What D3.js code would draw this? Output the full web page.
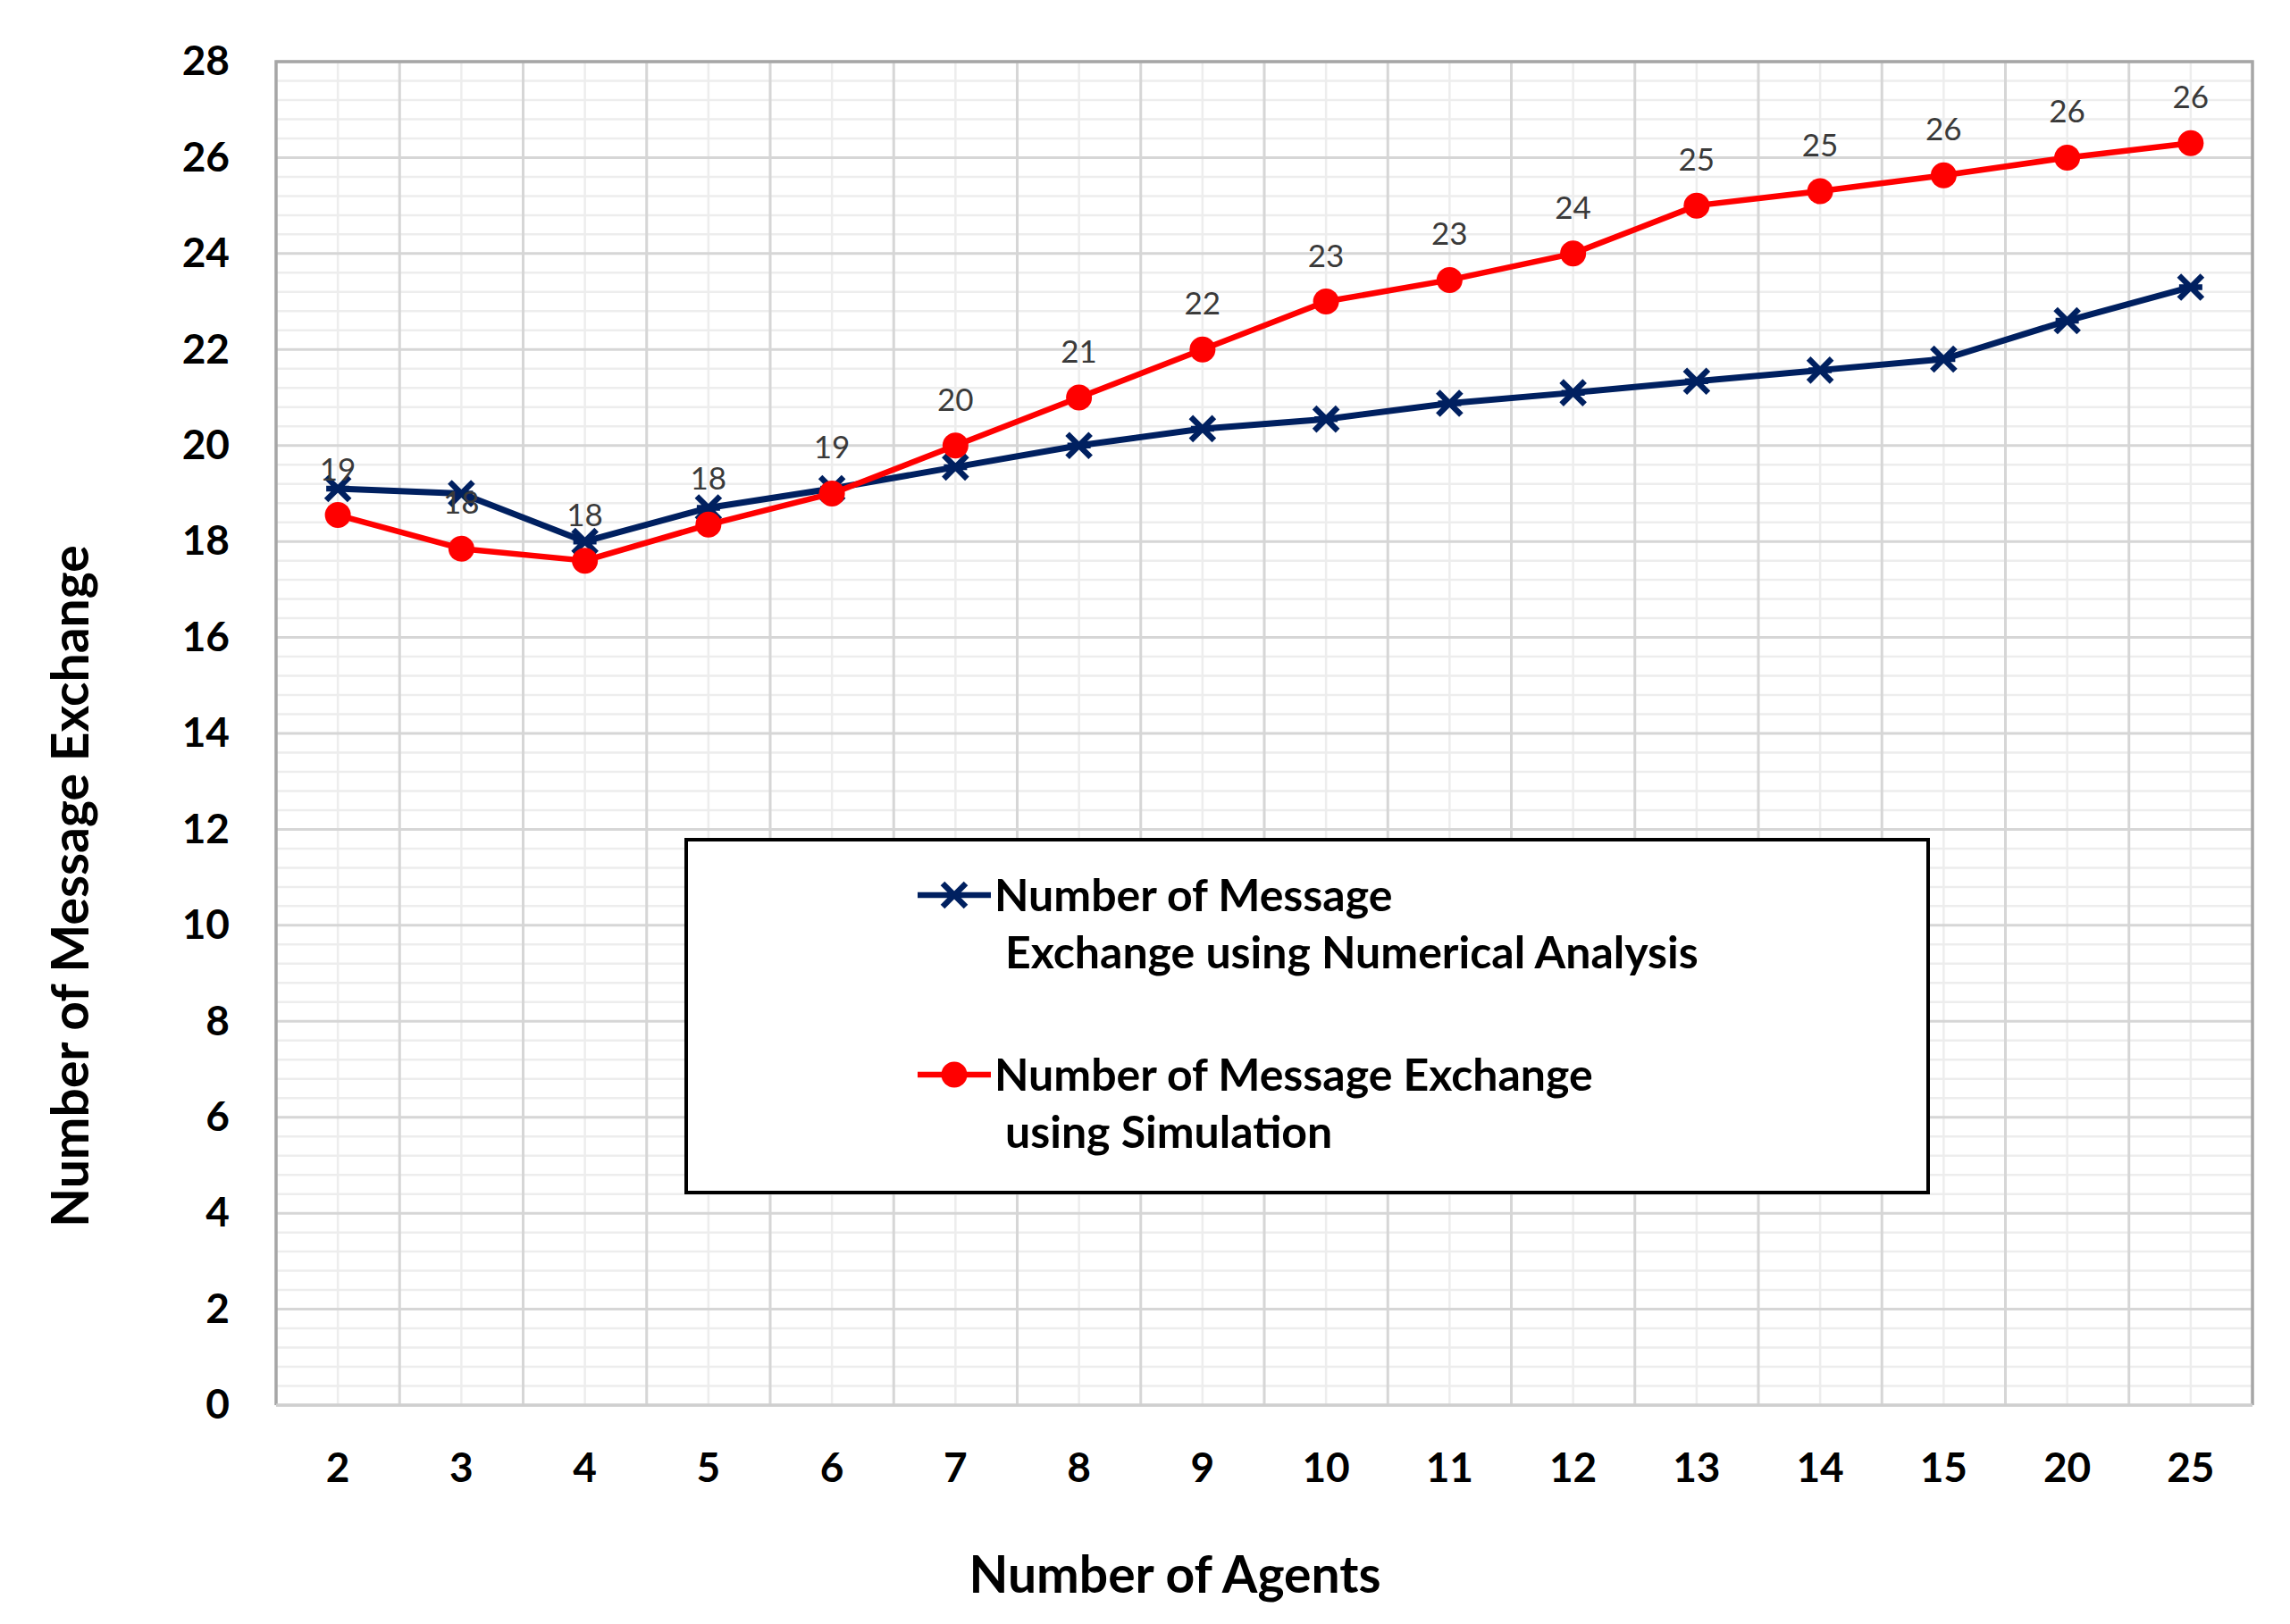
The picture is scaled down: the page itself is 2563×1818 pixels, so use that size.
<!DOCTYPE html>
<html>
<head>
<meta charset="utf-8">
<style>
    body { margin: 0; background: #fff; }
    svg { display: block; font-family: Lato, 'Open Sans', sans-serif; }
    svg text { font-family: Lato, 'Open Sans', sans-serif; }
    .y.axis text, .x.axis text { font-size: 46px; font-weight: 700; fill: #000; }
    .axis .domain { display: none; }
    .dlab { font-size: 35px; fill: #3a3a3a; }
    .atitle { font-size: 57px; font-weight: 700; fill: #000; }
    .legtext { font-size: 50px; font-weight: 700; fill: #000; }
</style>
</head>
<body>
<svg width="2563" height="1818"></svg>

<script src="https://d3js.org/d3.v7.min.js"></script>
<script>
    // values
    let agents = ["2", "3", "4", "5", "6", "7", "8", "9", "10", "11", "12", "13", "14", "15", "20", "25"];
    let numerical = [19.1, 19.0, 18.0, 18.7, 19.1, 19.55, 20.0, 20.35, 20.55, 20.88, 21.1, 21.34, 21.57, 21.8, 22.6, 23.3];
    let simulation = [18.55, 17.85, 17.6, 18.35, 19.0, 20.0, 21.0, 22.0, 23.0, 23.45, 24.0, 25.0, 25.3, 25.63, 26.0, 26.3];
    let yTicks = [0, 2, 4, 6, 8, 10, 12, 14, 16, 18, 20, 22, 24, 26, 28];
    let numericalName = ["Number of Message", "Exchange using Numerical Analysis"];
    let simulationName = ["Number of Message Exchange", "using Simulation"];
    let xTitle = "Number of Agents";
    let yTitle = "Number of Message Exchange";

    let margin = { top: 69, right: 42, bottom: 245, left: 309 };
    let width = 2563, height = 1818;

    let svg = d3.select("svg");

    let x = d3.scaleBand()
        .domain(agents)
        .range([margin.left, width - margin.right])
        .padding(0);

    let y = d3.scaleLinear()
        .domain([0, 28])
        .range([height - margin.bottom, margin.top]);

    let grid = svg.append("g").attr("class", "grid");

    // minor horizontal lines every 0.4
    let minorY = d3.range(0, 28.01, 0.4).filter(v => Math.abs(v / 2 - Math.round(v / 2)) > 0.01);
    grid.selectAll(".hminor")
        .data(minorY)
        .join("line")
        .attr("x1", x.range()[0]).attr("x2", x.range()[1])
        .attr("y1", d => y(d)).attr("y2", d => y(d))
        .attr("stroke", "#ededed").attr("stroke-width", 2.5);

    // minor vertical lines at category centers
    grid.selectAll(".vminor")
        .data(agents)
        .join("line")
        .attr("x1", d => x(d) + x.bandwidth() / 2).attr("x2", d => x(d) + x.bandwidth() / 2)
        .attr("y1", y(0)).attr("y2", y(28))
        .attr("stroke", "#ededed").attr("stroke-width", 2.5);

    // major lines
    grid.selectAll(".hmajor")
        .data(yTicks)
        .join("line")
        .attr("x1", x.range()[0]).attr("x2", x.range()[1])
        .attr("y1", d => y(d)).attr("y2", d => y(d))
        .attr("stroke", "#d6d6d6").attr("stroke-width", 3);

    grid.selectAll(".vmajor")
        .data(agents.slice(1))
        .join("line")
        .attr("x1", d => x(d)).attr("x2", d => x(d))
        .attr("y1", y(0)).attr("y2", y(28))
        .attr("stroke", "#d6d6d6").attr("stroke-width", 3);

    // plot frame
    svg.append("path")
        .attr("d", `M${x.range()[0]},${y(0)} V${y(28)} H${x.range()[1]} V${y(0)}`)
        .attr("fill", "none")
        .attr("stroke", "#a6a6a6")
        .attr("stroke-width", 3.5);

    svg.append("line")
        .attr("x1", x.range()[0]).attr("x2", x.range()[1])
        .attr("y1", y(0)).attr("y2", y(0))
        .attr("stroke", "#cfcfcf").attr("stroke-width", 3.5);

    // axes
    svg.append("g")
        .attr("class", "y axis")
        .attr("transform", `translate(${margin.left},0)`)
        .call(d3.axisLeft(y).tickValues(yTicks).tickSize(0).tickPadding(52));

    svg.append("g")
        .attr("class", "x axis")
        .attr("transform", `translate(0,${y(0)})`)
        .call(d3.axisBottom(x).tickSize(0).tickPadding(53));

    // lines
    let cx = d => x(d) + x.bandwidth() / 2;

    let line = d3.line()
        .x((d, i) => cx(agents[i]))
        .y(d => y(d));

    svg.append("path")
        .datum(numerical)
        .attr("fill", "none")
        .attr("stroke", "#002060")
        .attr("stroke-width", 7)
        .attr("stroke-linejoin", "round")
        .attr("d", line);

    let s = 13;
    svg.append("g")
        .selectAll("path")
        .data(numerical)
        .join("path")
        .attr("transform", (d, i) => `translate(${cx(agents[i])},${y(d)})`)
        .attr("d", `M${-s},${-s}L${s},${s}M${-s},${s}L${s},${-s}M${-s},0H${s}`)
        .attr("stroke", "#002060")
        .attr("stroke-width", 6.5)
        .attr("fill", "none");

    svg.append("path")
        .datum(simulation)
        .attr("fill", "none")
        .attr("stroke", "#ff0000")
        .attr("stroke-width", 6.5)
        .attr("stroke-linejoin", "round")
        .attr("d", line);

    svg.append("g")
        .selectAll("circle")
        .data(simulation)
        .join("circle")
        .attr("cx", (d, i) => cx(agents[i]))
        .attr("cy", d => y(d))
        .attr("r", 14.5)
        .attr("fill", "#ff0000");

    // data labels (simulation values, rounded)
    svg.append("g")
        .selectAll("text")
        .data(simulation)
        .join("text")
        .attr("class", "dlab")
        .attr("x", (d, i) => cx(agents[i]))
        .attr("y", d => y(d) - 39)
        .attr("text-anchor", "middle")
        .text(d => d3.format(".0f")(d));

    // axis titles
    svg.append("text")
        .attr("class", "atitle")
        .attr("x", 1315)
        .attr("y", 1783)
        .attr("text-anchor", "middle")
        .text(xTitle);

    svg.append("text")
        .attr("class", "atitle")
        .attr("transform", "translate(99,992) rotate(-90)")
        .attr("text-anchor", "middle")
        .text(yTitle);

    // legend
    let leg = svg.append("g").attr("class", "legend");
    leg.append("rect")
        .attr("x", 768).attr("y", 940)
        .attr("width", 1390).attr("height", 395)
        .attr("fill", "#fff")
        .attr("stroke", "#000")
        .attr("stroke-width", 4);

    let entries = [
        { name: numericalName, color: "#002060", marker: "x", ly: 1002 },
        { name: simulationName, color: "#ff0000", marker: "o", ly: 1203 }
    ];

    entries.forEach(e => {
        leg.append("line")
            .attr("x1", 1027).attr("x2", 1109)
            .attr("y1", e.ly).attr("y2", e.ly)
            .attr("stroke", e.color).attr("stroke-width", 6.5);
        if (e.marker == "x") {
            leg.append("path")
                .attr("transform", `translate(1068,${e.ly})`)
                .attr("d", `M${-s},${-s}L${s},${s}M${-s},${s}L${s},${-s}`)
                .attr("stroke", e.color).attr("stroke-width", 6.5);
        } else {
            leg.append("circle")
                .attr("cx", 1068).attr("cy", e.ly).attr("r", 14.5)
                .attr("fill", e.color);
        }
        leg.append("text")
            .attr("class", "legtext")
            .attr("x", 1113).attr("y", e.ly + 18)
            .text(e.name[0]);
        leg.append("text")
            .attr("class", "legtext")
            .attr("x", 1125).attr("y", e.ly + 82)
            .text(e.name[1]);
    });
</script>
</body>
</html>
